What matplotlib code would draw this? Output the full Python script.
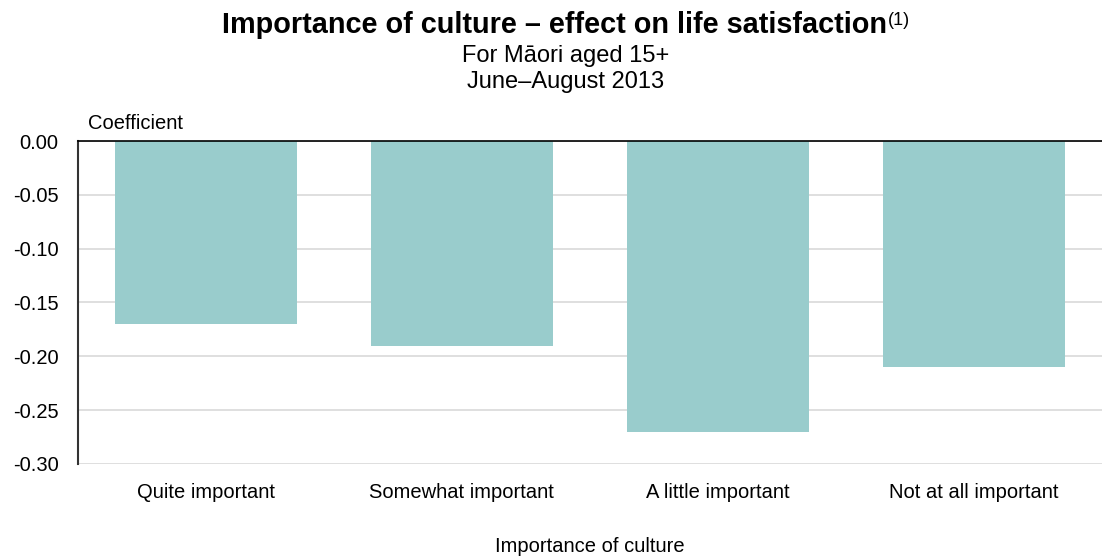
"""Bar chart: importance of culture and its effect on life satisfaction."""

import matplotlib.pyplot as plt

categories = ["Quite important", "Somewhat important", "A little important", "Not at all important"]
coefficients = [-0.17, -0.19, -0.27, -0.21]
y_ticks = [0.00, -0.05, -0.10, -0.15, -0.20, -0.25, -0.30]

plt.rcParams["font.family"] = ["Liberation Sans", "DejaVu Sans"]

fig = plt.figure(figsize=(11.02, 5.58), dpi=100)
ax = fig.add_axes([0.0708, 0.1685, 0.929, 0.5788])

ax.bar(range(len(categories)), coefficients, width=0.71, color="#99cccc", zorder=2)

ax.set_xlim(-0.5, len(categories) - 0.5)
ax.set_ylim(-0.30, 0.0)
ax.set_yticks(y_ticks)
ax.set_yticklabels([f"{v:.2f}" if v != 0 else "0.00" for v in y_ticks])
ax.set_xticks(range(len(categories)))
ax.set_xticklabels(categories)
ax.tick_params(axis="both", length=0, labelsize=14.5, colors="black")
ax.tick_params(axis="x", pad=14)
ax.tick_params(axis="y", pad=14)
ax.grid(axis="y", color="#d9d9d9", linewidth=1.2, zorder=0)

for side in ["right", "bottom"]:
    ax.spines[side].set_visible(False)
ax.spines["top"].set_color("black")
ax.spines["top"].set_linewidth(1.2)
ax.spines["top"].set_zorder(3)
ax.spines["left"].set_color("#333333")
ax.spines["left"].set_linewidth(1.5)

ax.set_xlabel("Importance of culture", fontsize=14.5, labelpad=25)
fig.text(0.080, 0.778, "Coefficient", fontsize=14.5, ha="left", va="center")

# title block, with the footnote marker trailing the main title
title = fig.text(0.503, 0.941, "Importance of culture \u2013 effect on life satisfaction",
                 fontsize=20.8, fontweight="bold", ha="center", va="baseline")
ax.annotate("(1)", xy=(1, 1), xycoords=title, xytext=(1, -1), textcoords="offset points",
            fontsize=13, ha="left", va="top")
fig.text(0.513, 0.889, "For M\u0101ori aged 15+", fontsize=17, ha="center", va="baseline")
fig.text(0.513, 0.842, "June\u2013August 2013", fontsize=17, ha="center", va="baseline")

fig.savefig("out.png", dpi=100)
